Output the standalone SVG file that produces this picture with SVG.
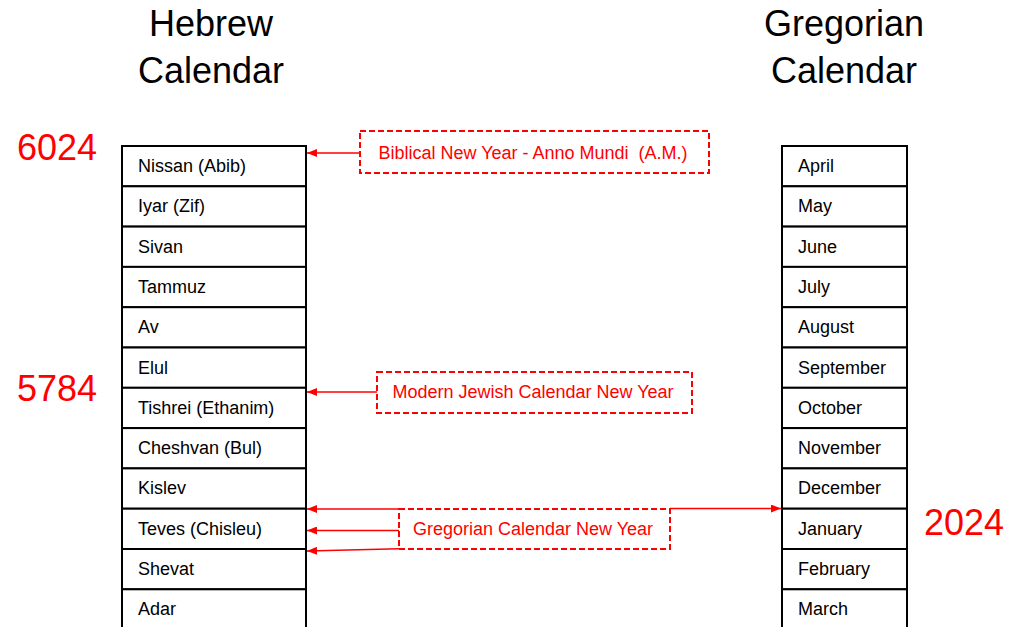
<svg xmlns="http://www.w3.org/2000/svg" width="1015" height="627" viewBox="0 0 1015 627">
<style>
.cell{fill:#fff;stroke:#000;stroke-width:2}
.ct{font-family:"Liberation Sans",Arial,sans-serif;font-size:18px;fill:#000}
.title{font-family:"Liberation Sans",Arial,sans-serif;font-size:36px;fill:#000;text-anchor:middle}
.year{font-family:"Liberation Sans",Arial,sans-serif;font-size:36px;fill:#f00}
.note{fill:#fff;stroke:#f00;stroke-width:2;stroke-dasharray:6 3}
.nt{font-family:"Liberation Sans",Arial,sans-serif;font-size:18px;fill:#f00;text-anchor:middle;white-space:pre}
.conn{stroke:#f00;stroke-width:1.5;fill:none;marker-end:url(#ah)}
</style>
<defs>
<marker id="ah" markerWidth="10" markerHeight="8" refX="10" refY="4" orient="auto" markerUnits="userSpaceOnUse">
<path d="M0,0 L10,4 L0,8 Z" fill="#f00"/>
</marker>
</defs>
<rect width="1015" height="627" fill="#fff"/>
<g id="titles">
<text class="title" x="211" y="36">Hebrew</text>
<text class="title" x="211" y="83">Calendar</text>
<text class="title" x="844" y="36">Gregorian</text>
<text class="title" x="844" y="83">Calendar</text>
</g>
<g id="years">
<text class="year" x="17" y="160">6024</text>
<text class="year" x="17" y="401">5784</text>
<text class="year" x="924" y="535">2024</text>
</g>
<g id="hebrew">
<g id="h-nissan"><rect class="cell" x="122" y="146" width="184" height="40.3"/><text class="ct" x="138" y="172">Nissan (Abib)</text></g>
<g id="h-iyar"><rect class="cell" x="122" y="186.3" width="184" height="40.3"/><text class="ct" x="138" y="212.3">Iyar (Zif)</text></g>
<g id="h-sivan"><rect class="cell" x="122" y="226.6" width="184" height="40.3"/><text class="ct" x="138" y="252.6">Sivan</text></g>
<g id="h-tammuz"><rect class="cell" x="122" y="266.9" width="184" height="40.3"/><text class="ct" x="138" y="292.9">Tammuz</text></g>
<g id="h-av"><rect class="cell" x="122" y="307.2" width="184" height="40.3"/><text class="ct" x="138" y="333.2">Av</text></g>
<g id="h-elul"><rect class="cell" x="122" y="347.5" width="184" height="40.3"/><text class="ct" x="138" y="373.5">Elul</text></g>
<g id="h-tishrei"><rect class="cell" x="122" y="387.8" width="184" height="40.3"/><text class="ct" x="138" y="413.8">Tishrei (Ethanim)</text></g>
<g id="h-cheshvan"><rect class="cell" x="122" y="428.1" width="184" height="40.3"/><text class="ct" x="138" y="454.1">Cheshvan (Bul)</text></g>
<g id="h-kislev"><rect class="cell" x="122" y="468.4" width="184" height="40.3"/><text class="ct" x="138" y="494.4">Kislev</text></g>
<g id="h-teves"><rect class="cell" x="122" y="508.7" width="184" height="40.3"/><text class="ct" x="138" y="534.7">Teves (Chisleu)</text></g>
<g id="h-shevat"><rect class="cell" x="122" y="549" width="184" height="40.3"/><text class="ct" x="138" y="575">Shevat</text></g>
<g id="h-adar"><rect class="cell" x="122" y="589.3" width="184" height="40.3"/><text class="ct" x="138" y="615.3">Adar</text></g>
</g>
<g id="gregorian">
<g id="g-april"><rect class="cell" x="782" y="146" width="125" height="40.3"/><text class="ct" x="798" y="172">April</text></g>
<g id="g-may"><rect class="cell" x="782" y="186.3" width="125" height="40.3"/><text class="ct" x="798" y="212.3">May</text></g>
<g id="g-june"><rect class="cell" x="782" y="226.6" width="125" height="40.3"/><text class="ct" x="798" y="252.6">June</text></g>
<g id="g-july"><rect class="cell" x="782" y="266.9" width="125" height="40.3"/><text class="ct" x="798" y="292.9">July</text></g>
<g id="g-august"><rect class="cell" x="782" y="307.2" width="125" height="40.3"/><text class="ct" x="798" y="333.2">August</text></g>
<g id="g-september"><rect class="cell" x="782" y="347.5" width="125" height="40.3"/><text class="ct" x="798" y="373.5">September</text></g>
<g id="g-october"><rect class="cell" x="782" y="387.8" width="125" height="40.3"/><text class="ct" x="798" y="413.8">October</text></g>
<g id="g-november"><rect class="cell" x="782" y="428.1" width="125" height="40.3"/><text class="ct" x="798" y="454.1">November</text></g>
<g id="g-december"><rect class="cell" x="782" y="468.4" width="125" height="40.3"/><text class="ct" x="798" y="494.4">December</text></g>
<g id="g-january"><rect class="cell" x="782" y="508.7" width="125" height="40.3"/><text class="ct" x="798" y="534.7">January</text></g>
<g id="g-february"><rect class="cell" x="782" y="549" width="125" height="40.3"/><text class="ct" x="798" y="575">February</text></g>
<g id="g-march"><rect class="cell" x="782" y="589.3" width="125" height="40.3"/><text class="ct" x="798" y="615.3">March</text></g>
</g>
<g id="connectors">
<line class="conn" x1="360" y1="153" x2="307" y2="153"/>
<line class="conn" x1="377" y1="392" x2="307" y2="392"/>
<line class="conn" x1="399" y1="509" x2="307" y2="509"/>
<line class="conn" x1="399" y1="530.5" x2="307" y2="530.5"/>
<line class="conn" x1="399" y1="548.8" x2="307" y2="551"/>
<line class="conn" x1="670" y1="508.5" x2="781" y2="508.5"/>
</g>
<g id="note-biblical"><rect class="note" x="360" y="131" width="349" height="42"/><text class="nt" x="533" y="159" xml:space="preserve">Biblical New Year - Anno Mundi  (A.M.)</text></g>
<g id="note-modern"><rect class="note" x="377" y="372" width="315" height="41"/><text class="nt" x="533" y="398">Modern Jewish Calendar New Year</text></g>
<g id="note-gregorian"><rect class="note" x="399" y="509" width="271" height="40"/><text class="nt" x="533" y="535">Gregorian Calendar New Year</text></g>
</svg>
